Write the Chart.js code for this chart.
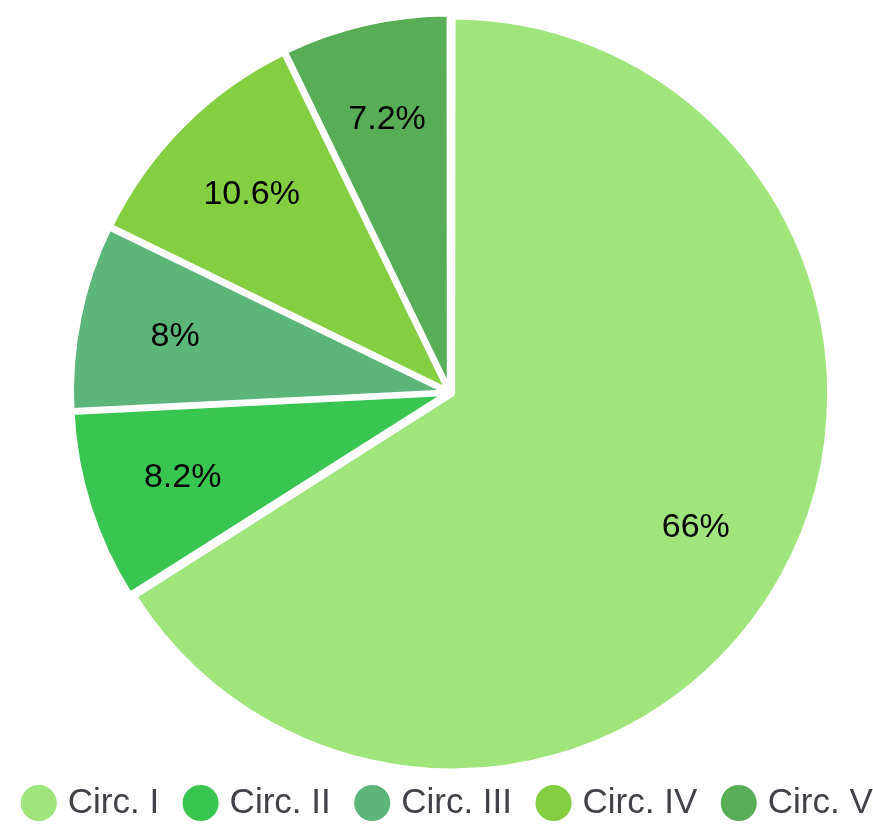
<!DOCTYPE html>
<html>
<head>
<meta charset="utf-8">
<script src="https://cdn.jsdelivr.net/npm/chart.js@4"></script>
<style>
  html, body { margin: 0; padding: 0; background: #fff; overflow: hidden; }
  #wrap { position: relative; left: -15px; width: 930px; height: 824px; }
</style>
</head>
<body>
<div id="wrap"><canvas id="pie"></canvas></div>
<script>
const labels = ['Circ. I', 'Circ. II', 'Circ. III', 'Circ. IV', 'Circ. V']
const shares = [66, 8.2, 8, 10.6, 7.2]
const colors = ['#a0e57c', '#38c651', '#5cb67a', '#84ce41', '#57ae57']

// percent text on every slice, a bit past the middle of the radius
const sliceLabels = {
  id: 'sliceLabels',
  afterDatasetsDraw(chart) {
    const ctx = chart.ctx
    const meta = chart.getDatasetMeta(0)
    ctx.save()
    ctx.font = '34px "Liberation Sans", Arial, sans-serif'
    ctx.fillStyle = '#000'
    ctx.textAlign = 'center'
    ctx.textBaseline = 'middle'
    meta.data.forEach((arc, i) => {
      const p = arc.getProps(['x', 'y', 'startAngle', 'endAngle', 'outerRadius'], true)
      const mid = (p.startAngle + p.endAngle) / 2
      const r = p.outerRadius * 0.75
      ctx.fillText(shares[i] + '%', p.x + Math.cos(mid) * r, p.y + Math.sin(mid) * r)
    })
    ctx.restore()
  },
}

new Chart('pie', {
  type: 'pie',
  data: {
    labels: labels,
    datasets: [
      {
        data: shares,
        backgroundColor: colors,
        borderColor: '#fff',
        borderWidth: 5,
        offset: 12,
        hoverOffset: 12,
      },
    ],
  },
  options: {
    responsive: true,
    maintainAspectRatio: false,
    animation: false,
    radius: 374,
    layout: { padding: { left: 0, right: 0, top: 29.5, bottom: -6.5 } },
    plugins: {
      legend: {
        position: 'bottom',
        labels: {
          usePointStyle: true,
          pointStyle: 'circle',
          boxWidth: 23,
          boxHeight: 25.5,
          padding: 30,
          color: '#404247',
          font: { family: '"Liberation Sans", Arial, sans-serif', size: 35 },
          // no white ring round the legend dots
          generateLabels(chart) {
            const items = Chart.overrides.pie.plugins.legend.labels.generateLabels(chart)
            items.forEach((it) => {
              it.lineWidth = 0
            })
            return items
          },
        },
      },
      tooltip: { enabled: false },
    },
  },
  plugins: [sliceLabels],
})
</script>
</body>
</html>
